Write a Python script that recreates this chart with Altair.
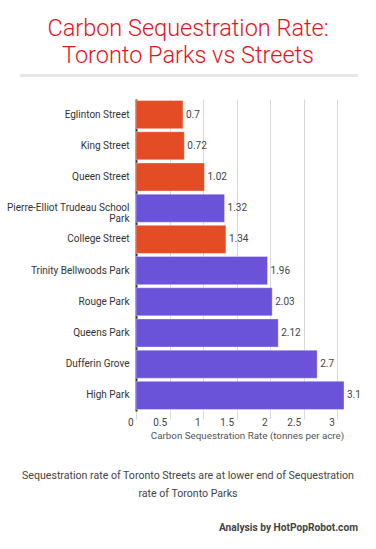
import altair as alt
import pandas as pd

names = ["Eglinton Street", "King Street", "Queen Street",
         "Pierre-Elliot Trudeau School Park", "College Street",
         "Trinity Bellwoods Park", "Rouge Park", "Queens Park",
         "Dufferin Grove", "High Park"]
values = [0.7, 0.72, 1.02, 1.32, 1.34, 1.96, 2.03, 2.12, 2.7, 3.1]
kinds = ["Street", "Street", "Street", "Park", "Street",
         "Park", "Park", "Park", "Park", "Park"]
x_ticks = [0, 0.5, 1, 1.5, 2, 2.5, 3]

title_lines = ["Carbon Sequestration Rate:", "Toronto Parks vs Streets"]
note_lines = ["Sequestration rate of Toronto Streets are at lower end of Sequestration",
              "rate of Toronto Parks"]
credit = "Analysis by HotPopRobot.com"

df = pd.DataFrame({"name": names, "value": values, "kind": kinds})
one = pd.DataFrame({"k": [0]})

W, H = 208, 312
FONT = "Roboto"

y_enc = alt.Y("name:N", sort=names,
              scale=alt.Scale(paddingInner=0.1, paddingOuter=0.05),
              axis=alt.Axis(title=None, ticks=False, grid=False,
                            domainColor="#333", domainWidth=2,
                            labelPadding=7, labelFont=FONT, labelFontSize=10,
                            labelFontWeight="normal", labelColor="#333",
                            labelLimit=200, labelLineHeight=11,
                            labelExpr="datum.label == 'Pierre-Elliot Trudeau School Park' ? ['Pierre-Elliot Trudeau School', 'Park'] : datum.label"))
x_enc = alt.X("value:Q", scale=alt.Scale(domain=[0, 3.1], nice=False),
              axis=alt.Axis(values=x_ticks, format="~g", grid=True, gridColor="#d9d9d9",
                            tickColor="#d9d9d9", tickSize=8, domain=False,
                            labelAlign="right", labelOffset=-3, labelBaseline="middle",
                            labelOverlap=False,
                            labelPadding=3, labelFont=FONT, labelFontSize=10,
                            labelColor="#444", labelFlush=False,
                            title="Carbon Sequestration Rate (tonnes per acre)",
                            titleFont=FONT, titleFontSize=9.8,
                            titleFontWeight="normal", titleColor="#555",
                            titleX=111, titleAlign="center", titleAnchor="start",
                            titlePadding=3))

base = alt.Chart(df).encode(y=y_enc, x=x_enc)

bars = base.mark_bar(strokeWidth=1, strokeOpacity=0.35, stroke="white").encode(
    color=alt.Color("kind:N",
                    scale=alt.Scale(domain=["Street", "Park"],
                                    range=["#e44c26", "#6a52d9"]),
                    legend=None),
)

labels = base.mark_text(align="left", baseline="middle", dx=3,
                        font=FONT, fontSize=10, color="#444").encode(
    text="value:Q",
)

def txt(s, x, y, size, color, align="center", weight="normal"):
    return alt.Chart(one).mark_text(
        align=align, baseline="alphabetic", font=FONT, fontSize=size,
        color=color, fontWeight=weight, clip=False
    ).encode(x=alt.value(x), y=alt.value(y), text=alt.value(s))

t1 = txt(title_lines[0], 52, -63, 23.5, "#e3141c", weight=300)
t2 = txt(title_lines[1], 52, -36, 23.5, "#e3141c", weight=300)
rule = alt.Chart(one).mark_rule(color="#e6e6e6", strokeWidth=3).encode(
    x=alt.value(-116), x2=alt.value(222), y=alt.value(-23.5))
n1 = txt(note_lines[0], 52, 380, 10.6, "#444")
n2 = txt(note_lines[1], 52, 398, 10.6, "#444")
cr = txt(credit, 222, 432, 10.2, "#444", align="right", weight="bold")

chart = alt.layer(bars, labels, t1, t2, rule, n1, n2, cr).properties(
    width=W, height=H,
    autosize=alt.AutoSizeParams(type="none"),
    padding={"left": 136, "top": 99, "right": 32, "bottom": 138},
    background="white",
).configure_view(stroke=None)

chart.save("out.html", embed_options={"renderer": "svg", "actions": False})
